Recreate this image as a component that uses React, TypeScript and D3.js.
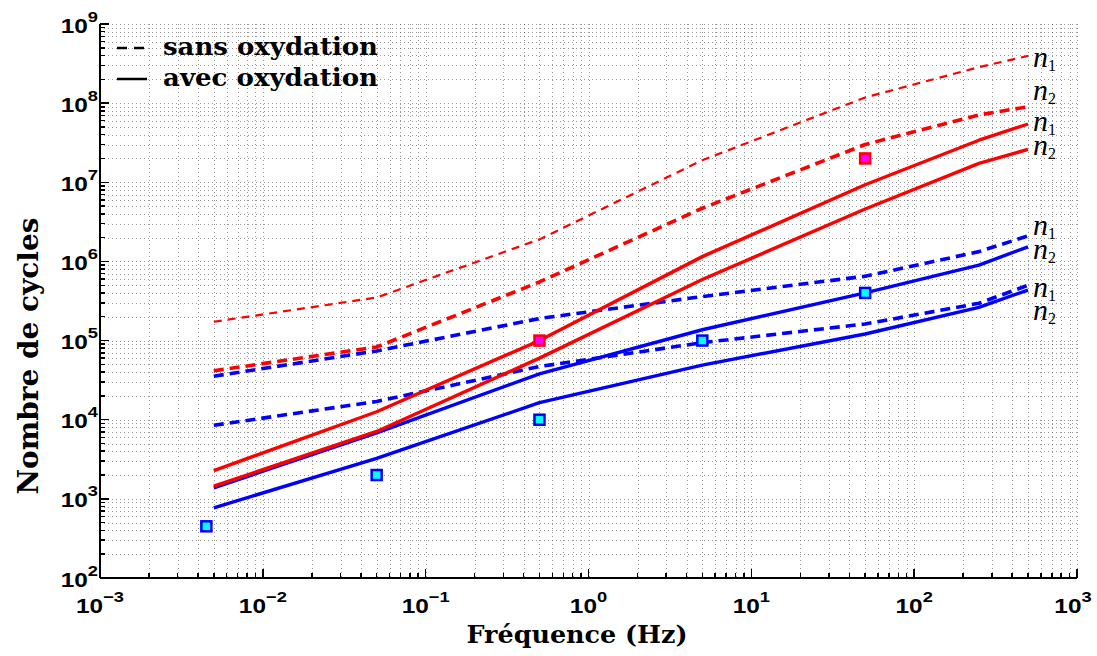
import React from "react";
import * as d3 from "d3";

// ---- data ----
const freq = [0.005, 0.05, 0.5, 5, 50, 250, 500];

const sansRedN1 = [1.73e5, 3.5e5, 1.9e6, 1.9e7, 1.18e8, 2.85e8, 3.95e8];
const sansRedN2 = [4.15e4, 8.3e4, 5.5e5, 4.7e6, 3.0e7, 7.1e7, 9.0e7];
const avecRedN1 = [2.27e3, 1.26e4, 1.0e5, 1.15e6, 9.3e6, 3.4e7, 5.45e7];
const avecRedN2 = [1.45e3, 7.1e3, 6.0e4, 5.9e5, 4.6e6, 1.73e7, 2.6e7];

const sansBlueN1 = [3.55e4, 7.4e4, 1.9e5, 3.6e5, 6.5e5, 1.33e6, 2.1e6];
const sansBlueN2 = [8.5e3, 1.7e4, 4.7e4, 9.4e4, 1.62e5, 2.96e5, 5.0e5];
const avecBlueN1 = [1.38e3, 6.8e3, 3.8e4, 1.37e5, 4.0e5, 9.0e5, 1.53e6];
const avecBlueN2 = [7.7e2, 3.25e3, 1.64e4, 4.9e4, 1.21e5, 2.63e5, 4.35e5];

const cyanFreq = [0.0045, 0.05, 0.5, 5, 50];
const cyanCycles = [450, 2000, 1e4, 1e5, 4e5];
const magentaFreq = [0.5, 50];
const magentaCycles = [1e5, 2e7];

const xDecades = [-3, -2, -1, 0, 1, 2, 3];
const yDecades = [2, 3, 4, 5, 6, 7, 8, 9];

const legendLabels = ["sans oxydation", "avec oxydation"];
const xTitle = "Fréquence (Hz)";
const yTitle = "Nombre de cycles";

// ---- layout ----
const W = 1097;
const H = 656;
const L = 100, R = 1077, T = 24, B = 578;

const x = d3.scaleLog().domain([1e-3, 1e3]).range([L, R]);
const y = d3.scaleLog().domain([1e2, 1e9]).range([B, T]);

const RED = "#ff0000";
const BLUE = "#0000ff";

const lineGen = (vals: number[]) =>
  d3.line<number>()
    .x((_, i) => x(freq[i]))
    .y((v) => y(v))(vals) as string;

const series = [
  { vals: sansBlueN1, color: BLUE, w: 3.6, dash: "10,6" },
  { vals: sansBlueN2, color: BLUE, w: 3.6, dash: "10,6" },
  { vals: avecBlueN1, color: BLUE, w: 3.4, dash: null },
  { vals: avecBlueN2, color: BLUE, w: 3.4, dash: null },
  { vals: sansRedN1, color: RED, w: 2.2, dash: "8,6" },
  { vals: sansRedN2, color: RED, w: 3.6, dash: "10,6" },
  { vals: avecRedN1, color: RED, w: 3.4, dash: null },
  { vals: avecRedN2, color: RED, w: 3.4, dash: null },
];

const nLabels = [
  { sub: "1", y: 67 },
  { sub: "2", y: 100 },
  { sub: "1", y: 131 },
  { sub: "2", y: 155 },
  { sub: "1", y: 235 },
  { sub: "2", y: 259 },
  { sub: "1", y: 297 },
  { sub: "2", y: 320 },
];

const tickFont = "'Liberation Sans', Arial, sans-serif";
const serifFont = "'DejaVu Serif', 'Liberation Serif', serif";

export default function App() {
  const xMinor: number[] = [];
  for (let e = -3; e < 3; e++) for (let k = 2; k <= 9; k++) xMinor.push(k * Math.pow(10, e));
  const yMinor: number[] = [];
  for (let e = 2; e < 9; e++) for (let k = 2; k <= 9; k++) yMinor.push(k * Math.pow(10, e));

  const gridStyle = { stroke: "#333", strokeWidth: 1, strokeDasharray: "1,3", opacity: 0.5 };

  return (
    <svg width={W} height={H} style={{ position: "absolute", left: 0, top: 0, background: "#fff" }}>
      <rect width={W} height={H} fill="#fff" />
      {/* grid */}
      <g shapeRendering="crispEdges">
        {[...xMinor, ...xDecades.map((e) => Math.pow(10, e))].map((v, i) => (
          <line key={"gx" + i} x1={Math.round(x(v)) + 0.5} x2={Math.round(x(v)) + 0.5} y1={T} y2={B} {...gridStyle} />
        ))}
        {[...yMinor, ...yDecades.map((e) => Math.pow(10, e))].map((v, i) => (
          <line key={"gy" + i} y1={Math.round(y(v)) + 0.5} y2={Math.round(y(v)) + 0.5} x1={L} x2={R} {...gridStyle} />
        ))}
      </g>
      {/* axes */}
      <g shapeRendering="crispEdges" stroke="#000" strokeWidth={1.5}>
        <line x1={L} x2={L} y1={T} y2={B} />
        <line x1={L} x2={R} y1={B} y2={B} />
        {xDecades.map((e) => (
          <line key={"xt" + e} x1={x(Math.pow(10, e))} x2={x(Math.pow(10, e))} y1={B} y2={B - 9} />
        ))}
        {xMinor.map((v, i) => (
          <line key={"xm" + i} x1={x(v)} x2={x(v)} y1={B} y2={B - 5} />
        ))}
        {yDecades.map((e) => (
          <line key={"yt" + e} y1={y(Math.pow(10, e))} y2={y(Math.pow(10, e))} x1={L} x2={L + 9} />
        ))}
        {yMinor.map((v, i) => (
          <line key={"ym" + i} y1={y(v)} y2={y(v)} x1={L} x2={L + 5} />
        ))}
      </g>
      {/* tick labels */}
      <g fontFamily={tickFont} fontWeight="bold" fill="#000">
        {yDecades.map((e) => (
          <g key={"yl" + e} transform={`translate(98,${y(Math.pow(10, e)) + 8.5}) scale(1.22,1)`}>
            <text textAnchor="end" fontSize={20}>
              10<tspan fontSize={15} dy={-11}>{e}</tspan>
            </text>
          </g>
        ))}
        {xDecades.map((e) => (
          <g key={"xl" + e} transform={`translate(${x(Math.pow(10, e)) - (e === 3 ? 4 : 0)},613) scale(1.22,1)`}>
            <text textAnchor="middle" fontSize={20}>
              10<tspan fontSize={15} dy={-11}>{e < 0 ? "\u2212" + -e : e}</tspan>
            </text>
          </g>
        ))}
      </g>
      {/* series */}
      {series.map((s, i) => (
        <path key={"s" + i} d={lineGen(s.vals)} fill="none" stroke={s.color} strokeWidth={s.w}
          strokeDasharray={s.dash || undefined} strokeLinejoin="round" />
      ))}
      {/* markers */}
      {cyanFreq.map((f, i) => (
        <rect key={"c" + i} x={x(f) - 5} y={y(cyanCycles[i]) - 5} width={10} height={10}
          fill="#00ffff" stroke={BLUE} strokeWidth={2.5} />
      ))}
      {magentaFreq.map((f, i) => (
        <rect key={"m" + i} x={x(f) - 5} y={y(magentaCycles[i]) - 5} width={10} height={10}
          fill="#ff00ff" stroke={RED} strokeWidth={2.5} />
      ))}
      {/* n labels */}
      <g fontFamily="'Liberation Serif', serif" fontStyle="italic" fill="#000">
        {nLabels.map((n, i) => (
          <text key={"n" + i} x={1033} y={n.y} fontSize={30}>
            n<tspan fontStyle="normal" fontSize={16} dy={4}>{n.sub}</tspan>
          </text>
        ))}
      </g>
      {/* legend */}
      <g>
        <line x1={117} x2={147} y1={48} y2={48} stroke="#000" strokeWidth={2.5} strokeDasharray="10,7" />
        <line x1={117} x2={147} y1={79} y2={79} stroke="#000" strokeWidth={2.5} />
        <text x={163} y={55} fontFamily={serifFont} fontWeight="bold" fontSize={25}
          textLength={215} lengthAdjust="spacingAndGlyphs">{legendLabels[0]}</text>
        <text x={163} y={86} fontFamily={serifFont} fontWeight="bold" fontSize={25}
          textLength={215} lengthAdjust="spacingAndGlyphs">{legendLabels[1]}</text>
      </g>
      {/* axis titles */}
      <text x={577} y={643} textAnchor="middle" fontFamily={serifFont} fontWeight="bold" fontSize={25}
        textLength={221} lengthAdjust="spacingAndGlyphs">{xTitle}</text>
      <text transform="translate(38,356) rotate(-90)" fontFamily={serifFont} fontWeight="bold" fontSize={28}
        x={0} y={0} textLength={277} lengthAdjust="spacingAndGlyphs"
        textAnchor="middle">{yTitle}</text>
    </svg>
  );
}
